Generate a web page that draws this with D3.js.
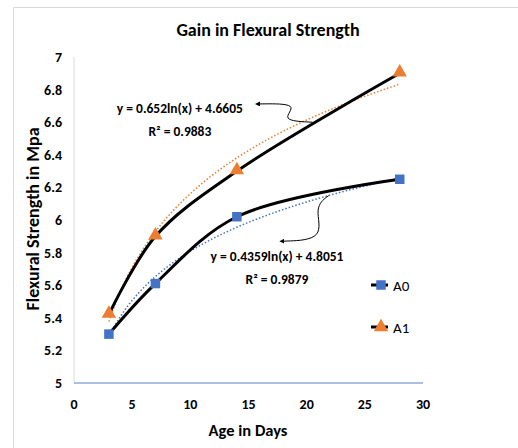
<!DOCTYPE html>
<html>
<head>
<meta charset="utf-8">
<script src="https://cdn.jsdelivr.net/npm/d3@7"></script>
<style>
  body { margin: 0; background: #fff; }
  text { font-family: Carlito, Lato, "Liberation Sans", sans-serif; }
</style>
</head>
<body>
<div id="chart"></div>
<script>
// data
var ages = [3, 7, 14, 28];
var a0 = [5.30, 5.61, 6.02, 6.25];
var a1 = [5.42, 5.90, 6.30, 6.90];
var seriesNames = ['A0', 'A1'];
var xTicks = [0, 5, 10, 15, 20, 25, 30];
var yTicks = [5, 5.2, 5.4, 5.6, 5.8, 6, 6.2, 6.4, 6.6, 6.8, 7];
// log trendline coefficients as shown on the chart: y = a ln(x) + b
var fitA0 = [0.4359, 4.8051];
var fitA1 = [0.652, 4.6605];
var labelA0 = ['y = 0.4359ln(x) + 4.8051', 'R² = 0.9879'];
var labelA1 = ['y = 0.652ln(x) + 4.6605', 'R² = 0.9883'];

var W = 518, H = 448;
var svg = d3.select('#chart').append('svg')
    .attr('width', W)
    .attr('height', H);

// chart frame
svg.append('path')
    .attr('d', 'M13.5,' + H + 'V7.5H' + W)
    .attr('fill', 'none')
    .attr('stroke', '#d9d9d9')
    .attr('stroke-width', 1);

var x = d3.scaleLinear().domain([0, 30]).range([74, 423]);
var y = d3.scaleLinear().domain([5, 7]).range([383, 57]);

svg.append('text')
    .attr('x', 268).attr('y', 36)
    .attr('text-anchor', 'middle')
    .attr('font-size', 18).attr('font-weight', 'bold')
    .text('Gain in Flexural Strength');

// axes
svg.append('line')
    .attr('x1', x(0)).attr('x2', x(0))
    .attr('y1', y(7)).attr('y2', y(5))
    .attr('stroke', '#d9d9d9');
svg.append('line')
    .attr('x1', x(0)).attr('x2', x(30))
    .attr('y1', y(5)).attr('y2', y(5))
    .attr('stroke', '#8faadc').attr('stroke-width', 1.3);

svg.selectAll('.xt').data(xTicks).enter().append('text')
    .attr('class', 'xt')
    .attr('x', (d) => x(d)).attr('y', 409)
    .attr('text-anchor', 'middle')
    .attr('font-size', 14).attr('font-weight', 'bold')
    .text((d) => d);
svg.selectAll('.yt').data(yTicks).enter().append('text')
    .attr('class', 'yt')
    .attr('x', 62).attr('y', (d) => y(d) + 5)
    .attr('text-anchor', 'end')
    .attr('font-size', 14).attr('font-weight', 'bold')
    .text((d) => d3.format('~g')(d));

svg.append('text')
    .attr('x', 248).attr('y', 436)
    .attr('text-anchor', 'middle')
    .attr('font-size', 16.5).attr('font-weight', 'bold')
    .text('Age in Days');
svg.append('text')
    .attr('transform', 'translate(39,219) rotate(-90)')
    .attr('text-anchor', 'middle')
    .attr('font-size', 18).attr('font-weight', 'bold')
    .text('Flexural Strength in Mpa');

// trendlines
function trend(fit) {
    var pts = d3.range(3, 28.01, 0.25);
    return pts.map((t) => [t, fit[0] * Math.log(t) + fit[1]]);
}
var tline = d3.line().x((d) => x(d[0])).y((d) => y(d[1]));
svg.append('path')
    .attr('d', tline(trend(fitA1)))
    .attr('fill', 'none').attr('stroke', '#ed7d31')
    .attr('stroke-width', 1.5).attr('stroke-dasharray', '1.5,2');
svg.append('path')
    .attr('d', tline(trend(fitA0)))
    .attr('fill', 'none').attr('stroke', '#4472c4')
    .attr('stroke-width', 1.5).attr('stroke-dasharray', '1.5,2');

// series
var sline = d3.line()
    .x((d, i) => x(ages[i]))
    .y((d) => y(d))
    .curve(d3.curveCatmullRom.alpha(0.5));
[a0, a1].forEach((s) => {
    svg.append('path')
        .attr('d', sline(s))
        .attr('fill', 'none').attr('stroke', '#000')
        .attr('stroke-width', 3).attr('stroke-linecap', 'round');
});

var sq = d3.symbol().type(d3.symbolSquare).size(90);
var tri = d3.symbol().type(d3.symbolTriangle).size(90);
svg.selectAll('.m0').data(a0).enter().append('path')
    .attr('class', 'm0')
    .attr('transform', (d, i) => 'translate(' + x(ages[i]) + ',' + y(d) + ')')
    .attr('d', sq).attr('fill', '#4472c4');
svg.selectAll('.m1').data(a1).enter().append('path')
    .attr('class', 'm1')
    .attr('transform', (d, i) => 'translate(' + x(ages[i]) + ',' + (y(d) - 1) + ')')
    .attr('d', tri).attr('fill', '#ed7d31');

// trendline labels with curved arrows
svg.append('defs').append('marker')
    .attr('id', 'ah')
    .attr('viewBox', '0 0 10 10')
    .attr('refX', 2).attr('refY', 5)
    .attr('markerWidth', 5).attr('markerHeight', 5)
    .attr('orient', 'auto-start-reverse')
  .append('path')
    .attr('d', 'M0,0L10,5L0,10Z')
    .attr('fill', '#000');

function label(lines, cx, cy) {
    svg.selectAll(null).data(lines).enter().append('text')
        .attr('x', x(cx)).attr('y', (d, i) => y(cy) + i * 22.5)
        .attr('text-anchor', 'middle')
        .attr('font-size', 13.5).attr('font-weight', 'bold')
        .text((d) => d);
}
label(labelA1, 9.1, 6.656);
label(labelA0, 17.45, 5.748);

var arrowLine = d3.line().x((d) => x(d[0])).y((d) => y(d[1])).curve(d3.curveBasis);
svg.append('path')
    .attr('d', arrowLine([[15.9, 6.712], [19.5, 6.715], [17.6, 6.61], [20.5, 6.6]]))
    .attr('fill', 'none').attr('stroke', '#000').attr('stroke-width', 1)
    .attr('marker-start', 'url(#ah)');
svg.append('path')
    .attr('d', arrowLine([[18.0, 5.87], [21.6, 5.88], [20.6, 6.08], [21.9, 6.15]]))
    .attr('fill', 'none').attr('stroke', '#000').attr('stroke-width', 1)
    .attr('marker-start', 'url(#ah)');

// legend
var legend = svg.selectAll('.lg').data(seriesNames).enter().append('g')
    .attr('class', 'lg')
    .attr('transform', (d, i) => 'translate(371,' + (285 + i * 42) + ')');
legend.append('line')
    .attr('x1', 0).attr('x2', 17)
    .attr('stroke', '#000').attr('stroke-width', 3);
legend.append('path')
    .attr('transform', 'translate(10,0)')
    .attr('d', (d, i) => (i === 0 ? sq : tri)())
    .attr('fill', (d, i) => (i === 0 ? '#4472c4' : '#ed7d31'));
legend.append('text')
    .attr('x', 22).attr('y', 5.5)
    .attr('font-size', 15)
    .text((d) => d);
</script>
</body>
</html>
